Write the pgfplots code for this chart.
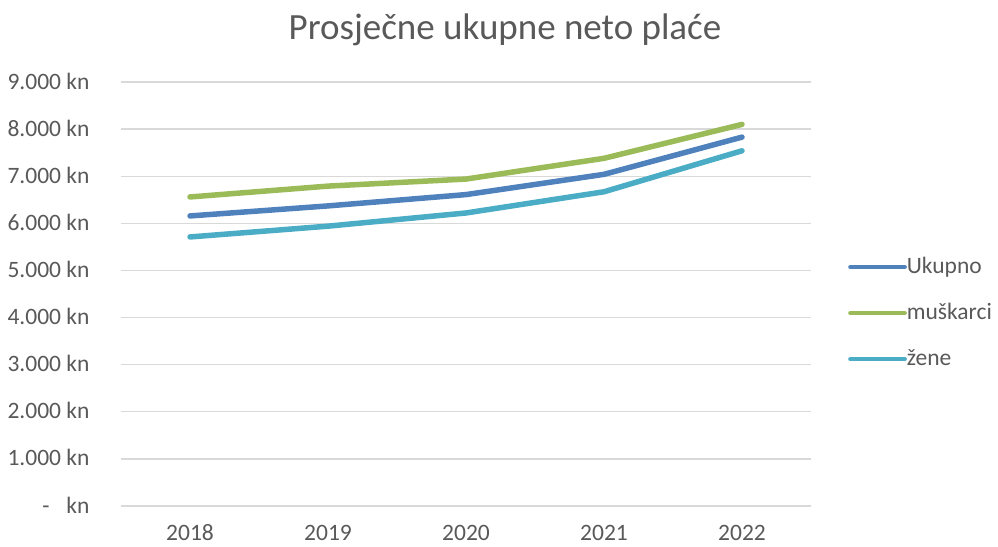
\documentclass[border=0pt]{standalone}
\usepackage{fontspec}
\setmainfont{Carlito}
\usepackage{pgfplots}
\pgfplotsset{compat=1.18}
\definecolor{cUk}{HTML}{4F81BD}
\definecolor{cMu}{HTML}{9BBB59}
\definecolor{cZe}{HTML}{4BACC6}
\definecolor{txt}{HTML}{595959}
\definecolor{grd}{HTML}{D9D9D9}
\begin{document}
\begin{tikzpicture}
\useasboundingbox (0,0) rectangle (998bp,547bp);
\begin{axis}[
  at={(121bp,41bp)}, anchor=south west,
  scale only axis, width=690bp, height=424bp,
  xmin=-0.5, xmax=4.5, ymin=0, ymax=9000,
  xtick={0,1,2,3,4},
  xticklabels={2018,2019,2020,2021,2022},
  ytick={0,1000,2000,3000,4000,5000,6000,7000,8000,9000},
  yticklabels={{-\hspace{17bp}kn},{1.000 kn},{2.000 kn},{3.000 kn},{4.000 kn},{5.000 kn},{6.000 kn},{7.000 kn},{8.000 kn},{9.000 kn}},
  major tick length=0pt,
  axis line style={draw=none},
  ymajorgrids, grid style={grd, line width=1.3bp},
  tick label style={font=\fontsize{23.5bp}{28bp}\selectfont, text=txt},
  xticklabel style={anchor=base, yshift=-34.5bp, inner sep=0pt, text depth=0pt},
  yticklabel style={anchor=base east, xshift=-28bp, yshift=-7bp},
  title={Prosječne ukupne neto plaće},
  title style={font=\fontsize{37bp}{44bp}\selectfont, text=txt, at={(0.5565,1.087)}, anchor=base},
  legend style={draw=none, fill=none, at={(1.0565,0.455)}, anchor=west, xshift=-5bp,
    font=\fontsize{23.5bp}{28bp}\selectfont, text=txt, row sep=24bp,
    nodes={inner sep=0pt, text height=17bp, text depth=5bp}},
  legend cell align=left,
  legend image code/.code={\draw[line width=4.7bp, line cap=round] (0bp,0bp) -- (54bp,0bp);},
  every axis plot/.append style={line width=5.5bp, line cap=round, line join=round},
]
\addplot[cUk] coordinates {(0,6157) (1,6370) (2,6610) (3,7040) (4,7830)};
\addlegendentry{Ukupno}
\addplot[cMu] coordinates {(0,6560) (1,6790) (2,6940) (3,7380) (4,8100)};
\addlegendentry{muškarci}
\addplot[cZe] coordinates {(0,5711) (1,5940) (2,6220) (3,6670) (4,7540)};
\addlegendentry{žene}
\end{axis}
\end{tikzpicture}
\end{document}
